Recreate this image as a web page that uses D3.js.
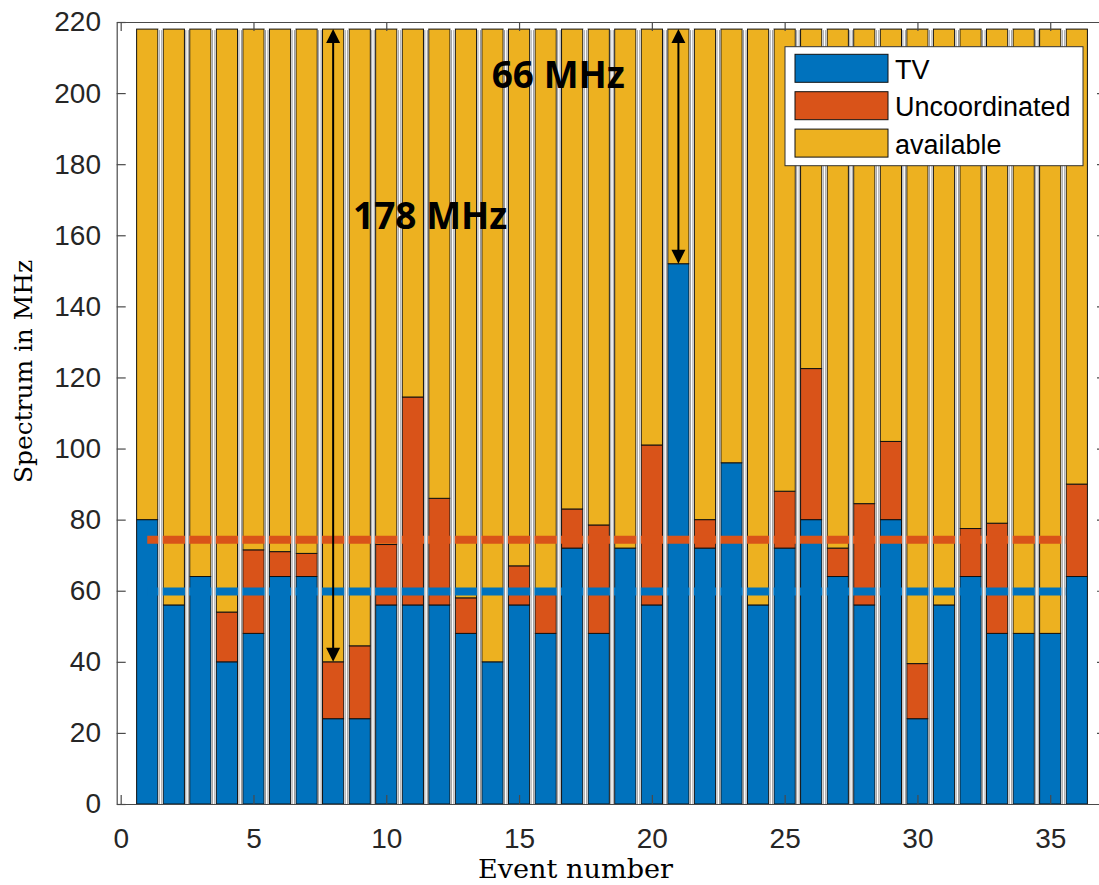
<!DOCTYPE html>
<html>
<head>
<meta charset="utf-8">
<script src="https://cdn.jsdelivr.net/npm/d3@7/dist/d3.min.js"></script>
<style>
  html, body { margin: 0; padding: 0; background: #fff; }
  svg { display: block; }
</style>
</head>
<body>
<svg id="chart" width="1099" height="885"></svg>
<script>
// ---------------- data ----------------
const events = [1,2,3,4,5,6,7,8,9,10,11,12,13,14,15,16,17,18,19,20,21,22,23,24,25,26,27,28,29,30,31,32,33,34,35,36];
const tvValues = [80,56,64,40,48,64,64,24,24,56,56,56,48,40,56,48,72,48,72,56,152,72,96,56,72,80,64,56,80,24,56,64,48,48,48,64];
const uncoordinatedValues = [0,0,0,14,23.5,7,6.5,16,20.5,17,58.5,30,10,0,11,12,11,30.5,0,45,0,8,0,0,16,42.5,8,28.5,22,15.5,0,13.5,31,0,0,26];
const availableValues = [138,162,154,164,146.5,147,147.5,178,173.5,145,103.5,132,160,178,151,158,135,139.5,146,117,66,138,122,162,130,95.5,146,133.5,116,178.5,162,140.5,139,170,170,128];
const seriesNames = ["TV", "Uncoordinated", "available"];
const seriesColors = ["#0072BD", "#D95319", "#EDB120"];
const xTicks = [0,5,10,15,20,25,30,35];
const yTicks = [0,20,40,60,80,100,120,140,160,180,200,220];
const meanLineX = [1, 35.6];
const annotations = [
  {x: 8,  from: 40,  to: 218, label: "178 MHz", lx: 8.75, ly: 161.8},
  {x: 21, from: 152, to: 218, label: "66 MHz",  lx: 13.97, ly: 201.4}
];

// ---------------- layout ----------------
const svg = d3.select("#chart");
const x = d3.scaleLinear().domain([-0.15, 37.1]).range([116.7, 1106]);
const y = d3.scaleLinear().domain([0, 220]).range([804, 22]);
const barHalf = 0.4;

const rows = events.map((e, i) => ({
  event: e,
  TV: tvValues[i],
  Uncoordinated: uncoordinatedValues[i],
  available: availableValues[i]
}));
const stacked = d3.stack().keys(seriesNames)(rows);

// bars
const gBars = svg.append("g");
stacked.forEach((layer, li) => {
  gBars.selectAll(null)
    .data(layer.filter(d => d[1] - d[0] > 0))
    .enter().append("rect")
    .attr("x", d => x(d.data.event - barHalf))
    .attr("width", d => x(d.data.event + barHalf) - x(d.data.event - barHalf))
    .attr("y", d => y(d[1]))
    .attr("height", d => y(d[0]) - y(d[1]))
    .attr("fill", seriesColors[li])
    .attr("stroke", "#111")
    .attr("stroke-width", 1);
});

// mean lines
const meanTV = d3.mean(tvValues);
const meanTotal = d3.mean(tvValues.map((v, i) => v + uncoordinatedValues[i]));
const lineGen = d3.line().x(d => x(d[0])).y(d => y(d[1]));
[[meanTotal, seriesColors[1]], [meanTV, seriesColors[0]]].forEach(([m, c]) => {
  svg.append("path")
    .attr("d", lineGen(meanLineX.map(v => [v, m])))
    .attr("stroke", c)
    .attr("stroke-width", 8)
    .attr("fill", "none");
});

// white gaps with grey halo between bars (rendering artifact of the reference)
const gGaps = svg.append("g");
const tops = rows.map(r => r.TV + r.Uncoordinated + r.available);
events.slice(0, -1).forEach((e, i) => {
  const xr = x(e + barHalf), xl = x(events[i + 1] - barHalf);
  const top = y(Math.max(tops[i], tops[i + 1]));
  gGaps.append("rect")
    .attr("x", xr + 0.6).attr("width", xl - xr - 1.2)
    .attr("y", top).attr("height", y(0) - top)
    .attr("fill", "#fff");
  [xr + 1.4, xl - 1.4].forEach(px => {
    gGaps.append("line")
      .attr("x1", px).attr("x2", px)
      .attr("y1", top + 1).attr("y2", y(0))
      .attr("stroke", "#9a9a9a").attr("stroke-width", 1);
  });
});

// annotations
const gAnn = svg.append("g");
const headL = 14, headW = 7;
annotations.forEach(a => {
  const cx = x(a.x);
  const yTop = y(a.to), yBot = y(a.from);
  gAnn.append("line")
    .attr("x1", cx).attr("x2", cx)
    .attr("y1", yTop + headL - 2).attr("y2", yBot - headL + 2)
    .attr("stroke", "#000").attr("stroke-width", 2);
  gAnn.append("path")
    .attr("d", `M${cx},${yTop} L${cx - headW},${yTop + headL} L${cx + headW},${yTop + headL} Z`)
    .attr("fill", "#000");
  gAnn.append("path")
    .attr("d", `M${cx},${yBot} L${cx - headW},${yBot - headL} L${cx + headW},${yBot - headL} Z`)
    .attr("fill", "#000");
  gAnn.append("text")
    .attr("x", x(a.lx)).attr("y", y(a.ly))
    .attr("font-family", "'Open Sans', sans-serif")
    .attr("font-weight", "bold")
    .attr("font-size", 37)
    .attr("fill", "#000")
    .text(a.label);
});

// axes
const axisColor = "#4a4a4a";
const tickFont = "'Liberation Sans', Arial, sans-serif";
function styleAxis(g) {
  g.selectAll("path.domain").attr("stroke", axisColor).attr("stroke-width", 1.2);
  g.selectAll(".tick line").attr("stroke", axisColor).attr("stroke-width", 1.2);
  g.selectAll(".tick text").attr("fill", "#262626").attr("font-family", tickFont).attr("font-size", 28);
}
const gLeft = svg.append("g").attr("transform", `translate(${x.range()[0]},0)`)
  .call(d3.axisLeft(y).tickValues(yTicks).tickSizeInner(-9).tickSizeOuter(0).tickPadding(15.7));
styleAxis(gLeft);
const gRight = svg.append("g").attr("transform", `translate(${x.range()[1]},0)`)
  .call(d3.axisRight(y).tickValues(yTicks).tickSizeInner(-9).tickSizeOuter(0).tickFormat(""));
styleAxis(gRight);
const gBottom = svg.append("g").attr("transform", `translate(0,${y.range()[0]})`)
  .call(d3.axisBottom(x).tickValues(xTicks).tickSizeInner(-9).tickSizeOuter(0).tickPadding(24));
styleAxis(gBottom);
const gTop = svg.append("g").attr("transform", `translate(0,${y.range()[1]})`)
  .call(d3.axisTop(x).tickValues(xTicks).tickSizeInner(-9).tickSizeOuter(0).tickFormat(""));
styleAxis(gTop);

// axis titles
svg.append("text")
  .attr("x", 575.5).attr("y", 878)
  .attr("text-anchor", "middle")
  .attr("font-family", "'DejaVu Serif', serif")
  .attr("font-size", 26)
  .attr("textLength", 195).attr("lengthAdjust", "spacingAndGlyphs")
  .attr("fill", "#000")
  .text("Event number");
svg.append("text")
  .attr("transform", "translate(32,371.5) rotate(-90)")
  .attr("text-anchor", "middle")
  .attr("font-family", "'DejaVu Serif', serif")
  .attr("font-size", 25)
  .attr("textLength", 223).attr("lengthAdjust", "spacingAndGlyphs")
  .attr("fill", "#000")
  .text("Spectrum in MHz");

// legend
const lg = svg.append("g");
lg.append("rect")
  .attr("x", 785).attr("y", 46.7).attr("width", 298).attr("height", 119)
  .attr("fill", "#fff").attr("stroke", "#333").attr("stroke-width", 1);
seriesNames.forEach((name, i) => {
  const top = 54.3 + i * 37.4;
  lg.append("rect")
    .attr("x", 795).attr("y", top).attr("width", 93).attr("height", 28)
    .attr("fill", seriesColors[i]).attr("stroke", "#111").attr("stroke-width", 1);
  lg.append("text")
    .attr("x", 895).attr("y", top + 24.7)
    .attr("font-family", tickFont).attr("font-size", 27)
    .attr("fill", "#000")
    .text(name);
});
</script>
</body>
</html>
